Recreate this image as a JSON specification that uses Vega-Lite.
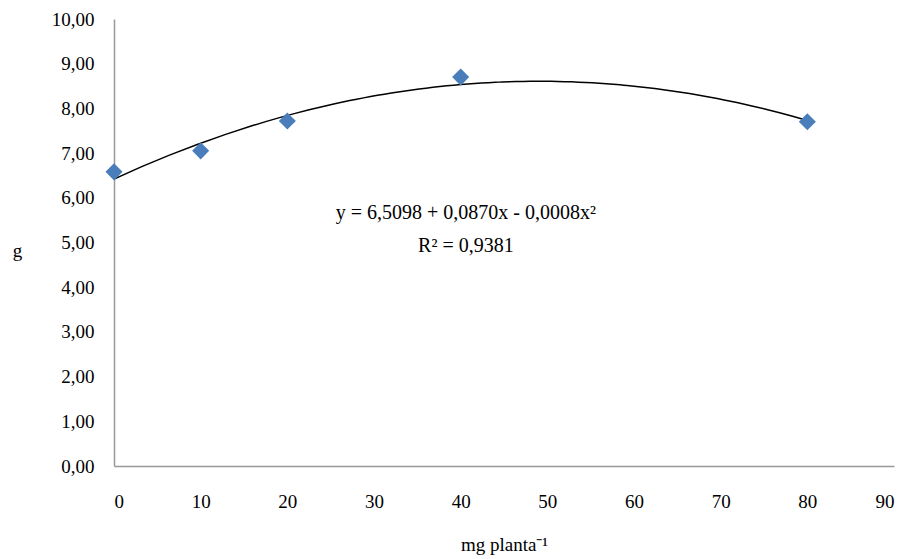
{
  "$schema": "https://vega.github.io/schema/vega-lite/v6.json",
  "autosize": "none",
  "width": 780,
  "height": 447,
  "padding": {"left": 114, "top": 19, "right": 15, "bottom": 93},
  "background": "white",
  "config": {"view": {"stroke": null}, "font": "Liberation Serif, Times New Roman, serif"},
  "datasets": {
    "pts": [
      {"dose": 0, "g": 6.58},
      {"dose": 10, "g": 7.05},
      {"dose": 20, "g": 7.72},
      {"dose": 40, "g": 8.70},
      {"dose": 80, "g": 7.70}
    ],
    "labels": [
      {"dose": 40.6, "g": 5.66, "t": "y = 6,5098 + 0,0870x - 0,0008x²"},
      {"dose": 40.6, "g": 4.93, "t": "R² = 0,9381"}
    ]
  },
  "layer": [
    {
      "data": {"name": "pts"},
      "transform": [{"regression": "g", "on": "dose", "method": "poly", "order": 2, "extent": [0, 80]}],
      "mark": {"type": "line", "color": "black", "strokeWidth": 1.5, "clip": true},
      "encoding": {
        "x": {"field": "dose", "type": "quantitative", "scale": {"domain": [0, 90], "nice": false, "zero": false},
          "axis": {"title": "mg planta⁻¹", "values": [0,10,20,30,40,50,60,70,80,90], "grid": false, "ticks": false,
            "domainColor": "#999999", "domainWidth": 1.5, "labelFont": "Liberation Serif, Times New Roman, serif", "labelFontSize": 19, "labelColor": "black",
            "labelPadding": 26, "titleFont": "Liberation Serif, Times New Roman, serif", "titleFontSize": 19, "titleFontWeight": "normal", "titleColor": "black", "titlePadding": 24}},
        "y": {"field": "g", "type": "quantitative", "scale": {"domain": [0, 10], "nice": false},
          "axis": {"title": "g", "values": [0,1,2,3,4,5,6,7,8,9,10], "grid": false, "ticks": false,
            "labelExpr": "replace(format(datum.value, '.2f'), '.', ',')",
            "domainColor": "#999999", "domainWidth": 1.5, "labelFont": "Liberation Serif, Times New Roman, serif", "labelFontSize": 19, "labelColor": "black",
            "labelPadding": 20, "titleFont": "Liberation Serif, Times New Roman, serif", "titleFontSize": 19, "titleFontWeight": "normal", "titleColor": "black",
            "titleAngle": 0, "titleX": -97, "titleY": 231, "titleAlign": "center", "titleBaseline": "middle"}}
      }
    },
    {
      "data": {"name": "pts"},
      "mark": {"type": "point", "shape": "diamond", "filled": true, "color": "#4A7EBB", "size": 290, "opacity": 1},
      "encoding": {
        "x": {"field": "dose", "type": "quantitative"},
        "y": {"field": "g", "type": "quantitative"}
      }
    },
    {
      "data": {"name": "labels"},
      "mark": {"type": "text", "font": "Liberation Serif, Times New Roman, serif", "fontSize": 20, "color": "black", "align": "center", "baseline": "middle"},
      "encoding": {
        "x": {"field": "dose", "type": "quantitative"},
        "y": {"field": "g", "type": "quantitative"},
        "text": {"field": "t"}
      }
    }
  ]
}
